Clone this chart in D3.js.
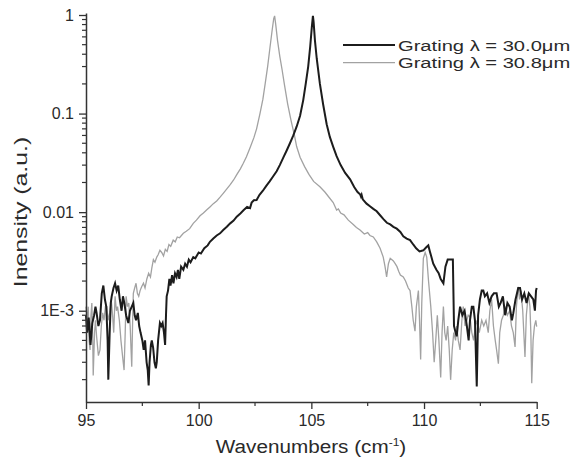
<!DOCTYPE html>
<html lang="en">
<head>
    <meta charset="UTF-8">
    <script src="https://d3js.org/d3.v7.min.js"></script>
    <title>Grating spectra</title>
    <style>
        body { margin: 0; background: white; }
        text { font-family: Arial, "Liberation Sans", sans-serif; fill: #2a2a2a; }
    </style>
</head>
<body>
    <svg width="578" height="465" id="chart"></svg>
    <script>
        // black curve, grating 30.0 um
        const x30 = [95.00,95.05,95.12,95.20,95.28,95.36,95.42,95.47,95.55,95.62,95.70,95.77,95.84,95.90,95.96,95.99,96.05,96.10,96.14,96.22,96.29,96.36,96.43,96.50,96.58,96.64,96.70,96.78,96.88,96.95,97.03,97.10,97.16,97.22,97.30,97.36,97.42,97.50,97.56,97.62,97.69,97.74,97.78,97.82,97.88,97.92,97.98,98.04,98.10,98.14,98.20,98.28,98.34,98.40,98.46,98.51,98.55,98.58,98.64,98.70,98.75,98.82,98.88,98.95,99.02,99.08,99.14,99.22,99.32,99.40,99.48,99.56,99.64,99.76,99.85,100.00,100.10,100.25,100.40,100.50,100.65,100.80,100.95,101.09,101.25,101.40,101.55,101.69,101.85,102.00,102.15,102.28,102.35,102.45,102.57,102.70,102.85,103.00,103.15,103.30,103.46,103.60,103.76,103.90,104.05,104.20,104.35,104.50,104.64,104.75,104.86,104.95,105.02,105.07,105.10,105.16,105.24,105.38,105.52,105.68,105.82,105.97,106.12,106.30,106.50,106.72,106.90,107.05,107.16,107.20,107.23,107.28,107.45,107.60,107.75,107.90,108.05,108.20,108.35,108.50,108.64,108.79,108.95,109.08,109.23,109.38,109.52,109.65,109.80,109.97,110.10,110.19,110.26,110.41,110.55,110.65,110.74,110.86,110.95,111.05,111.15,111.28,111.33,111.40,111.45,111.52,111.60,111.70,111.80,111.90,111.98,112.04,112.12,112.19,112.26,112.34,112.40,112.48,112.56,112.63,112.70,112.80,112.90,113.00,113.10,113.22,113.32,113.40,113.50,113.60,113.70,113.80,113.90,113.96,114.06,114.18,114.26,114.35,114.45,114.55,114.65,114.75,114.85,114.92,114.97,115.00];
        const y30 = [0.0009,0.0006,0.00085,0.00045,0.00075,0.0009,0.0011,0.00095,0.0007,0.0008,0.0015,0.0018,0.0013,0.0011,0.0005,0.0002,0.0006,0.0012,0.0014,0.0017,0.0019,0.0016,0.0018,0.0013,0.001,0.0014,0.0012,0.0009,0.00075,0.001,0.0011,0.0012,0.0009,0.0008,0.00095,0.0007,0.0006,0.0005,0.0004,0.0005,0.0003,0.00025,0.000175,0.0003,0.00045,0.0005,0.00042,0.0003,0.00026,0.0003,0.0005,0.00075,0.0007,0.00075,0.0006,0.00045,0.0009,0.0014,0.0016,0.0021,0.0018,0.0023,0.0019,0.0024,0.0022,0.0026,0.0021,0.0028,0.0026,0.003,0.0028,0.0033,0.0031,0.0035,0.0034,0.0039,0.0038,0.0043,0.0046,0.005,0.0054,0.0058,0.0061,0.0066,0.0071,0.0077,0.0082,0.009,0.0097,0.0105,0.0113,0.011,0.0125,0.0132,0.0133,0.015,0.0165,0.0185,0.0205,0.023,0.026,0.03,0.036,0.042,0.05,0.06,0.074,0.095,0.137,0.2,0.3,0.48,0.75,0.98,0.85,0.55,0.36,0.2,0.125,0.078,0.058,0.046,0.037,0.03,0.025,0.0215,0.018,0.016,0.0152,0.0144,0.015,0.0135,0.0122,0.0115,0.0108,0.0102,0.0093,0.0085,0.0078,0.0075,0.0071,0.0068,0.0063,0.0057,0.0054,0.0052,0.0047,0.0043,0.004,0.0041,0.0044,0.0046,0.004,0.003,0.0026,0.0024,0.0021,0.0019,0.0028,0.0033,0.0033,0.0033,0.0007,0.0006,0.00055,0.0008,0.0011,0.0009,0.001,0.0007,0.0005,0.0008,0.0011,0.0011,0.0008,0.00017,0.0009,0.0013,0.0016,0.0016,0.0014,0.0015,0.0012,0.0014,0.0015,0.0015,0.0011,0.0012,0.0014,0.0009,0.0012,0.0011,0.0008,0.00094,0.0013,0.0017,0.0017,0.0013,0.0015,0.0012,0.0015,0.0014,0.0013,0.001,0.0016,0.0017];

        // grey curve, grating 30.8 um
        const x308 = [95.00,95.05,95.10,95.14,95.18,95.22,95.26,95.30,95.32,95.38,95.42,95.47,95.55,95.62,95.68,95.74,95.80,95.86,95.92,95.98,96.05,96.12,96.18,96.23,96.29,96.35,96.40,96.48,96.55,96.62,96.69,96.74,96.78,96.84,96.90,96.96,97.00,97.03,97.07,97.10,97.16,97.22,97.28,97.34,97.40,97.47,97.55,97.62,97.70,97.78,97.86,97.92,97.99,98.06,98.14,98.20,98.28,98.36,98.44,98.52,98.60,98.68,98.76,98.87,98.96,99.05,99.15,99.32,99.45,99.60,99.76,99.90,100.06,100.21,100.35,100.50,100.65,100.80,100.95,101.09,101.25,101.40,101.55,101.69,101.85,101.98,102.12,102.28,102.45,102.57,102.72,102.85,102.95,103.06,103.16,103.26,103.33,103.37,103.42,103.50,103.60,103.70,103.80,103.95,104.10,104.25,104.35,104.50,104.70,104.90,105.10,105.38,105.60,105.80,105.97,106.12,106.20,106.30,106.45,106.55,106.64,106.86,107.00,107.16,107.35,107.50,107.60,107.75,107.90,108.05,108.19,108.27,108.34,108.42,108.50,108.64,108.72,108.80,108.88,108.95,109.08,109.18,109.30,109.38,109.46,109.52,109.60,109.66,109.75,109.80,109.85,109.90,109.97,110.05,110.12,110.20,110.30,110.38,110.45,110.52,110.59,110.66,110.74,110.80,110.86,110.92,110.98,111.05,111.12,111.18,111.25,111.32,111.40,111.45,111.52,111.60,111.68,111.74,111.82,111.90,111.96,112.04,112.12,112.20,112.28,112.36,112.45,112.56,112.65,112.75,112.85,112.92,113.00,113.08,113.16,113.22,113.30,113.36,113.44,113.52,113.60,113.70,113.80,113.88,113.96,114.04,114.10,114.18,114.24,114.30,114.38,114.48,114.54,114.63,114.70,114.74,114.78,114.84,114.90,114.96,115.00];
        const y308 = [0.0011,0.0008,0.0011,0.0005,0.0004,0.0009,0.0012,0.0005,0.00022,0.0006,0.0008,0.00055,0.00035,0.0004,0.0007,0.00095,0.0008,0.0011,0.0011,0.0008,0.00095,0.0013,0.0009,0.0006,0.0014,0.001,0.0011,0.0008,0.0005,0.00035,0.00025,0.0006,0.0014,0.0011,0.0012,0.0007,0.0004,0.00027,0.0008,0.0015,0.0017,0.0019,0.0015,0.0014,0.0016,0.00175,0.0019,0.0017,0.0021,0.0024,0.0022,0.0027,0.0033,0.0031,0.0035,0.0037,0.0041,0.0039,0.0036,0.0042,0.004,0.0047,0.0045,0.0052,0.005,0.0056,0.0055,0.0061,0.0064,0.0068,0.0077,0.0083,0.0092,0.0098,0.0105,0.0113,0.0122,0.013,0.0142,0.0155,0.0172,0.019,0.0212,0.024,0.0275,0.0313,0.0365,0.045,0.057,0.07,0.1,0.14,0.2,0.3,0.46,0.7,0.92,0.98,0.8,0.55,0.38,0.28,0.2,0.125,0.085,0.06,0.046,0.036,0.029,0.024,0.0205,0.0181,0.016,0.014,0.0125,0.0105,0.0108,0.0098,0.0094,0.0088,0.0083,0.0075,0.007,0.0066,0.006,0.0062,0.0058,0.0056,0.005,0.0043,0.0035,0.0028,0.0022,0.003,0.0034,0.0032,0.003,0.0028,0.0025,0.0023,0.0022,0.002,0.0017,0.0016,0.0011,0.0008,0.00062,0.0011,0.0016,0.0008,0.00032,0.0012,0.0034,0.0039,0.0035,0.002,0.0011,0.0006,0.0003,0.0005,0.0009,0.0005,0.00021,0.0006,0.0011,0.0006,0.0005,0.0007,0.0004,0.000199,0.0004,0.0006,0.0005,0.0007,0.0005,0.0004,0.0008,0.0011,0.0007,0.0008,0.0009,0.00087,0.0006,0.0005,0.0007,0.0008,0.0006,0.0008,0.0007,0.0008,0.0006,0.001,0.0013,0.0007,0.0005,0.0004,0.00029,0.0006,0.0008,0.0009,0.0011,0.0009,0.001,0.0007,0.0006,0.00043,0.0011,0.00175,0.0013,0.0016,0.001,0.00034,0.0009,0.0015,0.0011,0.0006,0.000184,0.0005,0.0007,0.0008,0.00069];

        const xTicks = [95, 100, 105, 110, 115];
        const xMinor = [97.5, 102.5, 107.5, 112.5];
        const yTicks = [1, 0.1, 0.01, 0.001];
        const yTickLabels = ["1", "0.1", "0.01", "1E-3"];
        const legendNames = ["Grating \u03bb = 30.0\u03bcm", "Grating \u03bb = 30.8\u03bcm"];
        const lineColors = ["#1c1c1c", "#a2a2a2"];

        let svg = d3.select("#chart");

        let x = d3.scaleLinear().domain([95, 115]).range([86, 536.7]);
        let y = d3.scaleLog().domain([0.0001186, 1.048]).range([402, 13]);

        // minor y ticks 2..9 in each decade
        let yMinor = [];
        [0.0001, 0.001, 0.01, 0.1].forEach(function(d){
            for(let k=2; k<10; k++){
                if(d*k >= y.domain()[0] && d*k <= y.domain()[1]) yMinor.push(d*k);
            }
        });

        // curves
        let line = d3.line()
            .x(function(d){ return x(d[0]); })
            .y(function(d){ return y(d[1]); });

        svg.append("path")
            .datum(d3.zip(x308, y308))
            .attr("d", line)
            .attr("fill", "none")
            .attr("stroke", lineColors[1])
            .attr("stroke-width", 1.3);

        svg.append("path")
            .datum(d3.zip(x30, y30))
            .attr("d", line)
            .attr("fill", "none")
            .attr("stroke", lineColors[0])
            .attr("stroke-width", 2);

        // x axis
        let gx = svg.append("g")
            .attr("transform", "translate(0,402)")
            .call(d3.axisBottom(x).tickValues(xTicks).tickSize(7).tickPadding(6).tickSizeOuter(0));
        gx.append("g").selectAll("line")
            .data(xMinor)
            .join("line")
            .attr("x1", function(d){ return x(d); })
            .attr("x2", function(d){ return x(d); })
            .attr("y1", 0)
            .attr("y2", 4)
            .attr("stroke", "#333")
            .attr("stroke-width", 1.2);

        // y axis
        let gy = svg.append("g")
            .attr("transform", "translate(86,0)")
            .call(d3.axisLeft(y).tickValues(yTicks).tickFormat(function(d, i){ return yTickLabels[i]; })
                .tickSize(7).tickPadding(5).tickSizeOuter(0));
        gy.append("g").selectAll("line")
            .data(yMinor)
            .join("line")
            .attr("x1", 0)
            .attr("x2", -4)
            .attr("y1", function(d){ return y(d); })
            .attr("y2", function(d){ return y(d); })
            .attr("stroke", "#333")
            .attr("stroke-width", 1.2);

        svg.selectAll(".domain").attr("stroke", "#333").attr("stroke-width", 1.5);
        svg.selectAll(".tick line").attr("stroke", "#333").attr("stroke-width", 1.3);
        svg.selectAll(".tick text")
            .attr("fill", "#2a2a2a")
            .style("font-family", "Arial, 'Liberation Sans', sans-serif")
            .style("font-size", "16px");

        // axis titles (the original lettering is a bit wider than Arial)
        let xt = svg.append("text")
            .attr("transform", "translate(311,453) scale(1.09,1)")
            .attr("text-anchor", "middle")
            .style("font-size", "19px");
        xt.append("tspan").text("Wavenumbers (cm");
        xt.append("tspan").attr("dy", -7).style("font-size", "11px").text("-1");
        xt.append("tspan").attr("dy", 7).text(")");

        svg.append("text")
            .attr("transform", "translate(27,212) rotate(-90) scale(1.38,1)")
            .attr("text-anchor", "middle")
            .style("font-size", "18px")
            .text("Inensity (a.u.)");

        // legend
        legendNames.forEach(function(name, i){
            let ly = 45 + i*17.7;
            svg.append("line")
                .attr("x1", 343)
                .attr("x2", 395)
                .attr("y1", ly)
                .attr("y2", ly)
                .attr("stroke", lineColors[i])
                .attr("stroke-width", i == 0 ? 2 : 1.3);
            svg.append("text")
                .attr("transform", "translate(398," + (ly + 5.5) + ") scale(1.3,1)")
                .style("font-size", "15.5px")
                .text(name);
        });
    </script>
</body>
</html>
